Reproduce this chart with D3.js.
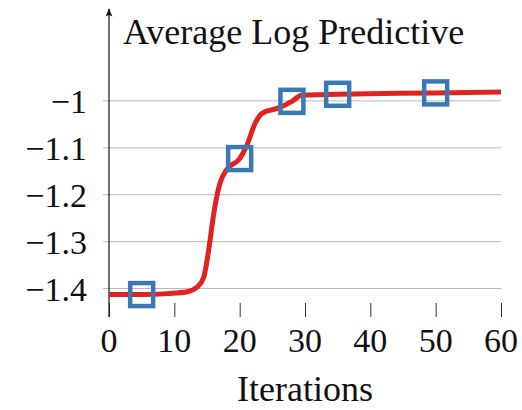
<!DOCTYPE html>
<html>
<head>
<meta charset="utf-8">
<script src="https://cdn.jsdelivr.net/npm/d3@7"></script>
<style>
  html, body { margin: 0; padding: 0; background: #fff; }
  svg { display: block; }
</style>
</head>
<body>
<svg id="chart" width="522" height="410"></svg>
<script>
// Average log predictive per iteration
const iterations = [0, 5, 9, 12, 13.5, 14.5, 15.3, 15.9, 16.5, 17, 18, 20, 21, 22.5, 23.5, 26, 28, 29.5, 35, 50, 60];
const logPredictive = [-1.414, -1.414, -1.412, -1.408, -1.398, -1.377, -1.315, -1.254, -1.205, -1.176, -1.148, -1.124, -1.099, -1.045, -1.027, -1.016, -1.002, -0.989, -0.987, -0.984, -0.982];
// iterations highlighted with square markers
const markedIterations = [5, 20, 28, 35, 50];
const xTicks = [0, 10, 20, 30, 40, 50, 60];
const yTicks = [-1.4, -1.3, -1.2, -1.1, -1];

const svg = d3.select("#chart");
const x = d3.scaleLinear().domain([0, 60]).range([109, 501]);
const y = d3.scaleLinear().domain([-1.4, -1]).range([288, 100.4]);
const axisBottomY = 317;
const serif = "'Liberation Serif', 'DejaVu Serif', serif";
const fmt = v => (v < 0 ? "\u2212" : "") + d3.format("")(Math.abs(v));

// horizontal grid lines with short tick stubs left of the axis
const grid = d3.axisLeft(y).tickValues(yTicks).tickSize(-(x(60) - x(0))).tickFormat("");
svg.append("g").attr("transform", `translate(${x(0)},0)`).call(grid)
  .call(g => g.select(".domain").remove())
  .call(g => g.selectAll("line").attr("x1", -6).attr("stroke", "#b9b9b9").attr("stroke-width", 1));

// y tick labels
svg.append("g").selectAll("text").data(yTicks).join("text")
  .attr("x", 87).attr("y", d => y(d) + 13)
  .attr("text-anchor", "end").attr("font-family", serif).attr("font-size", 34).attr("fill", "#111")
  .text(fmt);

// x axis ticks (no baseline), pointing up
const xAxis = d3.axisBottom(x).tickValues(xTicks).tickSize(-14).tickFormat("");
svg.append("g").attr("transform", `translate(0,${axisBottomY})`).call(xAxis)
  .call(g => g.select(".domain").remove())
  .call(g => g.selectAll("line").attr("stroke", "#333").attr("stroke-width", 1));

svg.append("g").selectAll("text").data(xTicks).join("text")
  .attr("x", d => x(d)).attr("y", 352)
  .attr("text-anchor", "middle").attr("font-family", serif).attr("font-size", 34).attr("fill", "#111")
  .text(fmt);

// vertical axis with arrow
svg.append("defs").append("marker")
  .attr("id", "arrow").attr("viewBox", "0 0 10 10").attr("refX", 9).attr("refY", 5)
  .attr("markerWidth", 7).attr("markerHeight", 7).attr("orient", "auto")
  .append("path").attr("d", "M0,1 L10,5 L0,9 Q3,5 0,1 Z").attr("fill", "#111");
svg.append("line").attr("x1", x(0)).attr("x2", x(0)).attr("y1", axisBottomY).attr("y2", 9)
  .attr("stroke", "#111").attr("stroke-width", 1.2).attr("marker-end", "url(#arrow)");

// data line
const pts = iterations.map((it, i) => [it, logPredictive[i]]);
const line = d3.line().x(d => x(d[0])).y(d => y(d[1])).curve(d3.curveMonotoneX);
svg.append("path").datum(pts).attr("d", line)
  .attr("fill", "none").attr("stroke", "#e2221f").attr("stroke-width", 5)
  .attr("stroke-linejoin", "round").attr("stroke-linecap", "butt");

// square markers
const marks = markedIterations.map(it => [it, logPredictive[iterations.indexOf(it)]]);
const s = 23;
svg.append("g").selectAll("rect").data(marks).join("rect")
  .attr("x", d => x(d[0]) - s / 2).attr("y", d => y(d[1]) - s / 2)
  .attr("width", s).attr("height", s)
  .attr("fill", "none").attr("stroke", "#3a78b4").attr("stroke-width", 4.5);

// titles
svg.append("text").attr("x", 123).attr("y", 44).attr("font-family", serif).attr("font-size", 36).attr("fill", "#111")
  .text("Average Log Predictive");
svg.append("text").attr("x", x(30)).attr("y", 401).attr("text-anchor", "middle")
  .attr("font-family", serif).attr("font-size", 36).attr("fill", "#111").text("Iterations");
</script>
</body>
</html>
